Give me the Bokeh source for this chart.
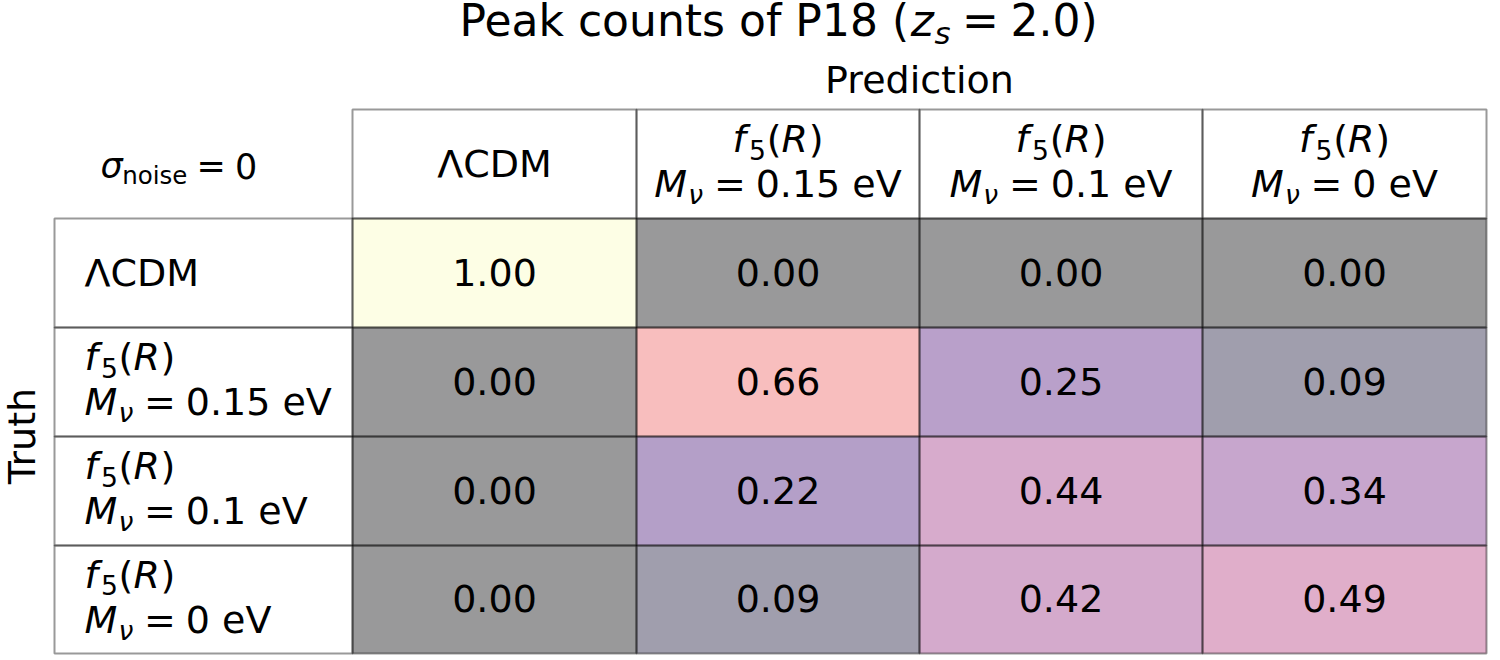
import numpy as np
from bokeh.plotting import figure
from bokeh.models import Range1d, ColumnDataSource
from bokeh.transform import linear_cmap
from bokeh.palettes import Magma256
from bokeh.core.properties import value
from bokeh.embed import file_html
from bokeh.resources import INLINE

# ---------------- data ----------------
title_text = "Peak counts of P18"
z_source = "2.0"
noise_level = "0"
models = ["ΛCDM", "f5(R)", "f5(R)", "f5(R)"]
neutrino_mass = [None, "0.15", "0.1", "0"]
probabilities = [
    [1.00, 0.00, 0.00, 0.00],
    [0.00, 0.66, 0.25, 0.09],
    [0.00, 0.22, 0.44, 0.34],
    [0.00, 0.09, 0.42, 0.49],
]
x_label = "Prediction"
y_label = "Truth"

# ---------------- layout (screen px) ----------------
FONT = "DejaVu Sans"
FS = 38
TITLE_FS = 44
CAP = 0.365  # half cap height (em): baseline -> visual middle
col_edges = [54, 352, 636, 919, 1202, 1486]
row_edges = [109, 218, 327, 436, 545, 653]
SUB = 0.17
GAP_EQ = 0.26

W = {' ': 0.318, '(': 0.390, ')': 0.390, '.': 0.318, '=': 0.838,
     'C': 0.698, 'D': 0.770, 'M': 0.863, 'R': 0.695, 'V': 0.684, 'P': 0.603,
     'e': 0.615, 'f': 0.352, 'i': 0.278, 'n': 0.634, 'o': 0.612, 's': 0.521,
     'z': 0.525, 'a': 0.613, 'k': 0.579, 'c': 0.550, 'u': 0.634, 't': 0.392,
     'Λ': 0.684, 'ν': 0.592, 'σ': 0.602}
for d in "0123456789":
    W[d] = 0.636


def tw(s):
    return sum(W.get(ch, 0.6) for ch in s)


pieces = {"normal": dict(x=[], y=[], text=[], size=[]),
          "italic": dict(x=[], y=[], text=[], size=[])}


def rich(parts, x, y, fs, align="center"):
    # parts: (text, style, scale, subscript, gap_before_em); y = baseline
    total = sum(g * fs + tw(t) * sc * fs for t, st, sc, sb, g in parts)
    cx = x - total / 2 if align == "center" else x
    for t, st, sc, sb, g in parts:
        cx += g * fs
        d = pieces[st]
        base = y + (SUB * fs if sb else 0)
        d["x"].append(cx)
        d["y"].append(base - CAP * fs * sc)
        d["text"].append(t)
        d["size"].append(f"{fs * sc:.1f}px")
        cx += tw(t) * sc * fs


def model_parts(name):
    if name == "f5(R)":
        return [("f", "italic", 1, False, 0), ("5", "normal", 0.7, True, 0.08),
                ("(", "normal", 1, False, 0.02), ("R", "italic", 1, False, 0),
                (")", "normal", 1, False, 0.02)]
    return [(name, "normal", 1, False, 0)]


def mass_parts(m):
    return [("M", "italic", 1, False, 0), ("ν", "italic", 0.7, True, 0.03),
            ("=", "normal", 1, False, GAP_EQ), (f"{m} eV", "normal", 1, False, GAP_EQ)]


def label(name, m, x, yc, align):
    if m is None:
        rich(model_parts(name), x, yc + CAP * FS, FS, align)
    else:
        rich(model_parts(name), x, yc - 11, FS, align)
        rich(mass_parts(m), x, yc + 34, FS, align)


p = figure(width=1500, height=660, output_backend="svg", toolbar_location=None,
           x_range=Range1d(0, 1500), y_range=Range1d(660, 0),
           min_border=0, outline_line_color=None,
           x_axis_location=None, y_axis_location=None)
p.grid.visible = False
p.background_fill_color = "white"

n = len(models)
xc = [(col_edges[j + 1] + col_edges[j + 2]) / 2 for j in range(n)]
yc = [(row_edges[i + 1] + row_edges[i + 2]) / 2 for i in range(n)]

# data cells
cells = dict(left=[], right=[], top=[], bottom=[], val=[], txt=[], cx=[], cy=[])
for i in range(n):
    for j in range(n):
        v = probabilities[i][j]
        cells["left"].append(col_edges[j + 1])
        cells["right"].append(col_edges[j + 2])
        cells["top"].append(row_edges[i + 1])
        cells["bottom"].append(row_edges[i + 2])
        cells["val"].append(v)
        cells["txt"].append(f"{v:.2f}")
        cells["cx"].append(xc[j])
        cells["cy"].append(yc[i] - 1)
src = ColumnDataSource(cells)
p.quad(left="left", right="right", top="top", bottom="bottom", source=src,
       fill_color=linear_cmap("val", Magma256, 0, 1), fill_alpha=0.4, line_color=None)

# header and row-label cells
hb = dict(left=[], right=[], top=[], bottom=[])
for j in range(n):  # header
    hb["left"].append(col_edges[j + 1]); hb["right"].append(col_edges[j + 2])
    hb["top"].append(row_edges[0]); hb["bottom"].append(row_edges[1])
for i in range(n):  # row labels
    hb["left"].append(col_edges[0]); hb["right"].append(col_edges[1])
    hb["top"].append(row_edges[i + 1]); hb["bottom"].append(row_edges[i + 2])

# all borders (semi-transparent, so shared edges look darker)
ab = {k: list(hb[k]) + list(cells[k]) for k in ("left", "right", "top", "bottom")}
p.quad(left="left", right="right", top="top", bottom="bottom",
       source=ColumnDataSource(ab), fill_color=None, line_color="black",
       line_alpha=0.4, line_width=2)

p.text(x="cx", y="cy", text="txt", source=src, text_font=value(FONT),
       text_font_size=f"{FS}px", text_align="center", text_baseline="middle",
       text_color="black")

# headers and row labels
for j in range(n):
    label(models[j], neutrino_mass[j], xc[j], (row_edges[0] + row_edges[1]) / 2, "center")
for i in range(n):
    label(models[i], neutrino_mass[i], 84, yc[i], "left")

# sigma_noise
rich([("σ", "italic", 1, False, 0), ("noise", "normal", 0.7, True, 0.02),
      ("=", "normal", 1, False, GAP_EQ), (noise_level, "normal", 1, False, GAP_EQ)],
     100, 178, 35, "left")

# title
rich([(title_text + " (", "normal", 1, False, 0), ("z", "italic", 1, False, 0),
      ("s", "italic", 0.7, True, 0.02), ("=", "normal", 1, False, GAP_EQ),
      (z_source + ")", "normal", 1, False, GAP_EQ)],
     778, 36, TITLE_FS, "center")

for st, d in pieces.items():
    p.text(x="x", y="y", text="text", text_font_size="size",
           source=ColumnDataSource(d), text_font=value(FONT), text_font_style=st,
           text_align="left", text_baseline="middle", text_color="black")

p.text(x=[(col_edges[1] + col_edges[-1]) / 2], y=[93 - CAP * FS], text=[x_label],
       text_font=value(FONT), text_font_size=f"{FS}px", text_align="center",
       text_baseline="middle", text_color="black")
p.text(x=[21], y=[(row_edges[1] + row_edges[-1]) / 2], text=[y_label], angle=np.pi / 2,
       text_font=value(FONT), text_font_size=f"{FS}px", text_align="center",
       text_baseline="middle", text_color="black")

open("out.html", "w").write(file_html(p, INLINE))
